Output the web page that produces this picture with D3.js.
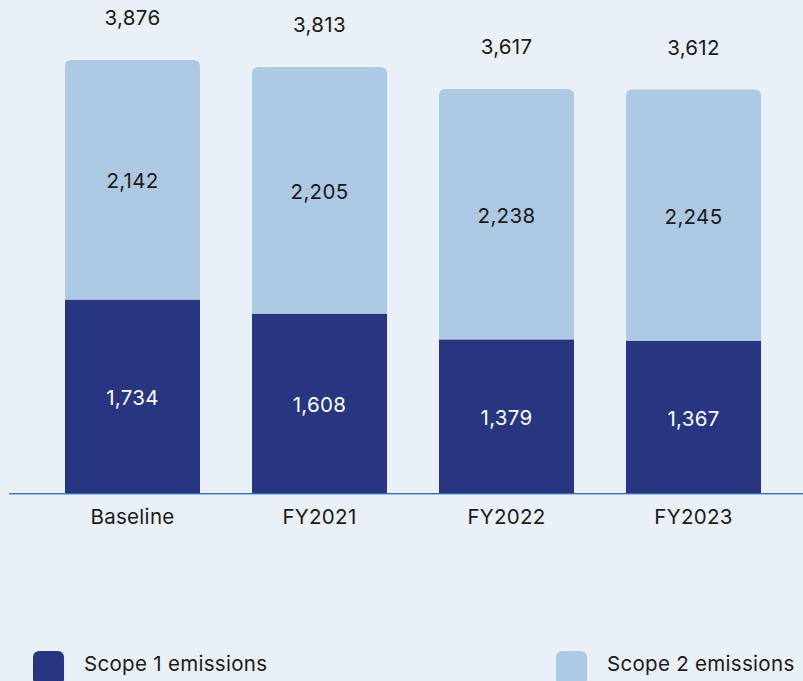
<!DOCTYPE html>
<html>
<head>
<meta charset="utf-8">
<script src="https://cdn.jsdelivr.net/npm/d3@7"></script>
<style>
  html, body { margin: 0; padding: 0; background: #EAF0F8; }
  svg { display: block; }
  text { font-family: Inter, "Noto Sans", sans-serif; letter-spacing: 0.3px; }
</style>
</head>
<body>
<svg id="chart" width="803" height="681"></svg>
<script>
const categories = ["Baseline", "FY2021", "FY2022", "FY2023"];
const scope1 = [1734, 1608, 1379, 1367];
const scope2 = [2142, 2205, 2238, 2245];
const totals = [3876, 3813, 3617, 3612];
const seriesNames = ["Scope 1 emissions", "Scope 2 emissions"];
const colors = ["#283580", "#ADC8E2"];

const svg = d3.select("#chart");
const W = 803, H = 681;
const baseY = 494;

const x = d3.scaleBand().domain(categories).range([65, 761]).paddingInner(52 / 187).paddingOuter(0);
const y = d3.scaleLinear().domain([0, 3876]).range([baseY, 60]);

const fmt = d3.format(",");
const r = 6;
const fs = 20.5;

const g = svg.append("g");

categories.forEach((c, i) => {
  const x0 = x(c), bw = x.bandwidth();
  const yTop = y(totals[i]);
  const yMid = y(scope1[i]);
  const p = d3.path();
  p.moveTo(x0, yMid);
  p.lineTo(x0, yTop + r);
  p.arcTo(x0, yTop, x0 + r, yTop, r);
  p.lineTo(x0 + bw - r, yTop);
  p.arcTo(x0 + bw, yTop, x0 + bw, yTop + r, r);
  p.lineTo(x0 + bw, yMid);
  p.closePath();
  g.append("path").attr("d", p.toString()).attr("fill", colors[1]);
  g.append("rect").attr("x", x0).attr("y", yMid).attr("width", bw)
    .attr("height", baseY - yMid).attr("fill", colors[0]);

  const cx = x0 + bw / 2;
  g.append("text").attr("x", cx).attr("y", (yMid + baseY) / 2 + 1).attr("dy", "0.36em")
    .attr("text-anchor", "middle").attr("font-size", fs).attr("fill", "#ffffff")
    .text(fmt(scope1[i]));
  g.append("text").attr("x", cx).attr("y", (yTop + yMid) / 2 + 1).attr("dy", "0.36em")
    .attr("text-anchor", "middle").attr("font-size", fs).attr("fill", "#1a1a1a")
    .text(fmt(scope2[i]));
  g.append("text").attr("x", cx).attr("y", yTop - 42).attr("dy", "0.36em")
    .attr("text-anchor", "middle").attr("font-size", fs).attr("fill", "#1a1a1a")
    .text(fmt(totals[i]));
});

const axis = d3.axisBottom(x).tickSize(0).tickPadding(15);
const ax = svg.append("g").attr("transform", `translate(0,${baseY})`).call(axis);
ax.select(".domain").remove();
ax.selectAll("text").attr("font-size", fs).attr("fill", "#1a1a1a")
  .attr("font-family", "Inter, 'Noto Sans', sans-serif");
svg.append("line").attr("x1", 9).attr("x2", W).attr("y1", baseY + 0.5).attr("y2", baseY + 0.5)
  .attr("stroke", "#9DC0E6").attr("stroke-width", 1);
svg.append("line").attr("x1", 9).attr("x2", W).attr("y1", baseY - 0.5).attr("y2", baseY - 0.5)
  .attr("stroke", "#3A6CAE").attr("stroke-width", 1.2);

const legendX = [33, 556];
seriesNames.forEach((n, i) => {
  svg.append("rect").attr("x", legendX[i]).attr("y", 651).attr("width", 31).attr("height", 34)
    .attr("rx", 6).attr("fill", colors[i]);
  svg.append("text").attr("x", legendX[i] + 51).attr("y", 664).attr("dy", "0.36em")
    .attr("font-size", fs).attr("fill", "#1a1a1a").text(n);
});
</script>
</body>
</html>
